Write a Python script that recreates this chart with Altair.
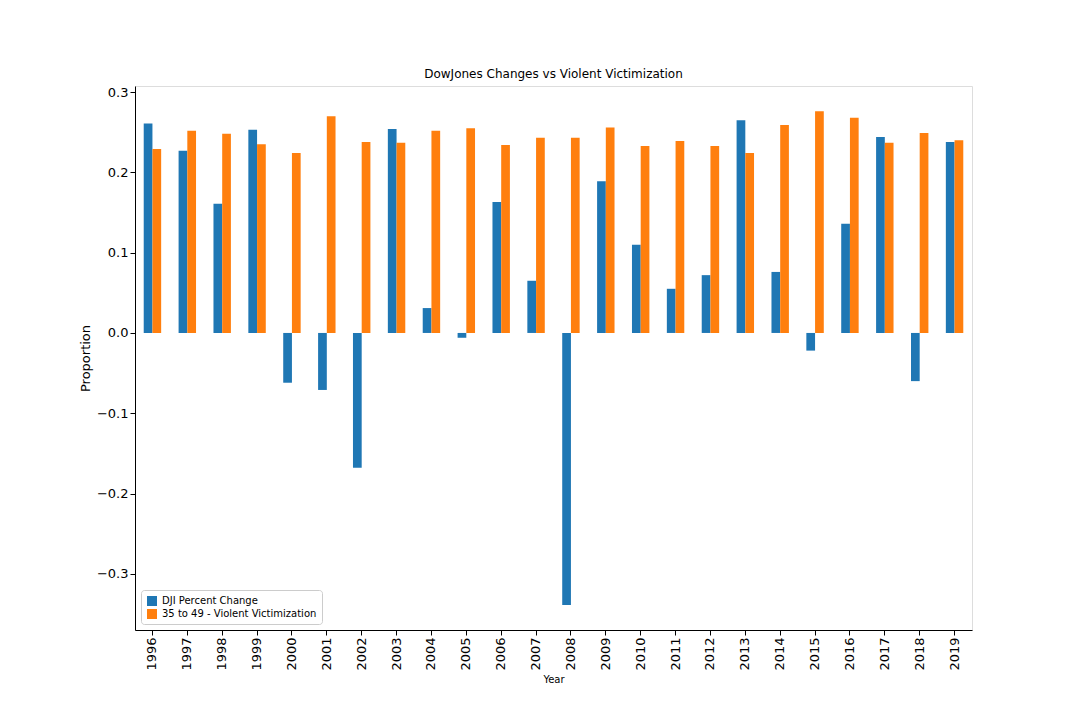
import altair as alt
import pandas as pd

years = [str(y) for y in range(1996, 2020)]
dji = [0.261, 0.227, 0.161, 0.253, -0.062, -0.071, -0.168, 0.254, 0.031, -0.006, 0.163, 0.065,
       -0.339, 0.189, 0.110, 0.055, 0.072, 0.265, 0.076, -0.022, 0.136, 0.244, -0.060, 0.238]
viol = [0.229, 0.252, 0.248, 0.235, 0.224, 0.270, 0.238, 0.237, 0.252, 0.255, 0.234, 0.243,
        0.243, 0.256, 0.233, 0.239, 0.233, 0.224, 0.259, 0.276, 0.268, 0.237, 0.249, 0.240]
series = ["DJI Percent Change", "35 to 49 - Violent Victimization"]

rows = []
for y, a, b in zip(years, dji, viol):
    rows.append({"Year": y, "Series": series[0], "Value": a})
    rows.append({"Year": y, "Series": series[1], "Value": b})
df = pd.DataFrame(rows)

chart = alt.Chart(df).mark_bar().encode(
    x=alt.X("Year:N", sort=years, scale=alt.Scale(paddingInner=0.5, paddingOuter=0.25),
            axis=alt.Axis(labelAngle=-90, labelFontSize=13, labelColor="black", titleFontSize=10,
                          titleFontWeight="normal", tickColor="black", domainColor="black", tickSize=5,
                          titlePadding=4)),
    xOffset=alt.XOffset("Series:N", sort=series),
    y=alt.Y("Value:Q", title="Proportion", scale=alt.Scale(domain=[-0.37, 0.3076], nice=False, zero=False),
            axis=alt.Axis(values=[-0.3, -0.2, -0.1, 0.0, 0.1, 0.2, 0.3], format=".1f", grid=False,
                          labelFontSize=13, labelColor="black", titleFontSize=13, titleFontWeight="normal",
                          tickColor="black", domainColor="black", tickSize=5)),
    color=alt.Color("Series:N", sort=series,
                    scale=alt.Scale(domain=series, range=["#1f77b4", "#ff7f0e"]),
                    legend=alt.Legend(title=None, orient="bottom-left", symbolType="square",
                                      labelFontSize=10, strokeColor="#cccccc", padding=5,
                                      fillColor="white", cornerRadius=3, offset=6)),
).properties(
    width=837, height=544,
    title=alt.TitleParams("DowJones Changes vs Violent Victimization", fontSize=12,
                          fontWeight="normal", offset=5),
    padding={"left": 127, "top": 78, "right": 20, "bottom": 80},
    autosize=alt.AutoSizeParams(type="none"),
).configure_view(stroke="black").configure(font="DejaVu Sans")

chart.save("out.html", embed_options={"renderer": "svg", "actions": False})
